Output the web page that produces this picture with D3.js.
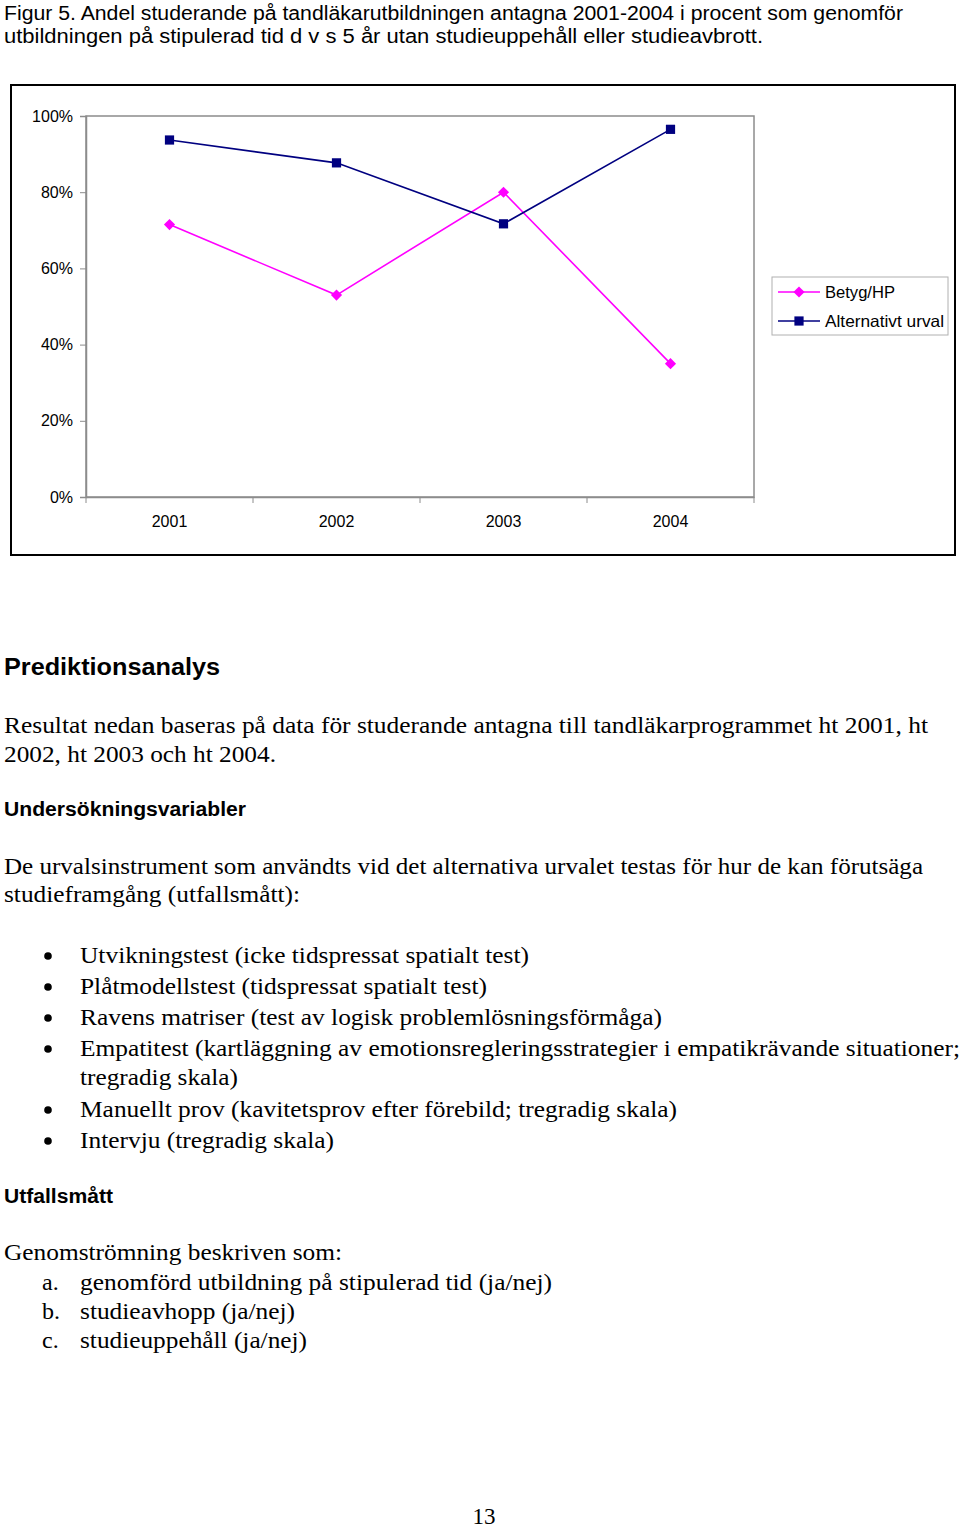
<!DOCTYPE html>
<html><head><meta charset="utf-8">
<script src="https://cdn.jsdelivr.net/npm/d3@7"></script>
<style>body{margin:0;background:#fff}svg{display:block}</style>
</head><body>
<svg id="c" width="960" height="1529"></svg>
<script>
const years = ["2001","2002","2003","2004"];
const betygHP = [71.5, 53, 80, 35];
const altUrval = [93.7, 87.7, 71.7, 96.5];
const yTicks = [0,20,40,60,80,100];
const seriesNames = ["Betyg/HP","Alternativt urval"];

const svg = d3.select("#c");
const sans = "'Liberation Sans', Arial, sans-serif";
const serif = "'Liberation Serif', 'Times New Roman', serif";

// Title
svg.append("text").attr("x",4).attr("y",20).attr("font-family",sans).attr("font-size",20)
  .attr("textLength",899).attr("lengthAdjust","spacingAndGlyphs")
  .text("Figur 5. Andel studerande på tandläkarutbildningen antagna 2001-2004 i procent som genomför");
svg.append("text").attr("x",4).attr("y",43).attr("font-family",sans).attr("font-size",20)
  .attr("textLength",759).attr("lengthAdjust","spacingAndGlyphs")
  .text("utbildningen på stipulerad tid d v s 5 år utan studieuppehåll eller studieavbrott.");

// chart frame
svg.append("rect").attr("x",11).attr("y",85).attr("width",944).attr("height",470)
  .attr("fill","#fff").attr("stroke","#000").attr("stroke-width",2);

const x = d3.scaleBand().domain(years).range([86,754]).padding(0);
const y = d3.scaleLinear().domain([0,100]).range([497,116]);

// plot area border
svg.append("rect").attr("x",86).attr("y",116).attr("width",668).attr("height",381)
  .attr("fill","none").attr("stroke","#8c8c8c").attr("stroke-width",1.5);

const yAxis = svg.append("g").attr("transform","translate(86,0)")
  .call(d3.axisLeft(y).tickValues(yTicks).tickFormat(d=>d+"%").tickSize(6).tickPadding(7));
yAxis.select(".domain").attr("stroke","#8c8c8c").attr("stroke-width",1.5);
yAxis.selectAll(".tick line").attr("stroke","#8c8c8c");
yAxis.selectAll("text").attr("font-family",sans).attr("font-size",16).attr("fill","#000");

const xAxis = svg.append("g").attr("transform","translate(0,497)")
  .call(d3.axisBottom(x).tickSize(0).tickPadding(19));
xAxis.select(".domain").attr("stroke","#8c8c8c").attr("stroke-width",1.5);
xAxis.selectAll("text").attr("font-family",sans).attr("font-size",16).attr("fill","#000");
// boundary ticks
const bounds = years.map(d=>x(d)).concat([x.range()[1]]);
svg.append("g").selectAll("line").data(bounds).join("line")
  .attr("x1",d=>d).attr("x2",d=>d).attr("y1",497).attr("y2",503)
  .attr("stroke","#8c8c8c").attr("stroke-width",1);

const cx = d => x(d)+x.bandwidth()/2;
const line = d3.line().x((v,i)=>cx(years[i])).y(v=>y(v));

const cfg = [
  {vals:betygHP, color:"#ff00ff", size:62, rot:45},
  {vals:altUrval, color:"#000080", size:85, rot:0}
];
cfg.forEach(s=>{
  svg.append("path").attr("d",line(s.vals)).attr("fill","none").attr("stroke",s.color).attr("stroke-width",1.6);
  svg.append("g").selectAll("path").data(s.vals).join("path")
    .attr("d",d3.symbol().type(d3.symbolSquare).size(s.size))
    .attr("transform",(v,i)=>`translate(${cx(years[i])},${y(v)}) rotate(${s.rot})`)
    .attr("fill",s.color);
});

// legend
svg.append("rect").attr("x",772).attr("y",277).attr("width",176).attr("height",58)
  .attr("fill","#fff").attr("stroke","#b0b0b0").attr("stroke-width",1);
const legW = [70,119];
seriesNames.forEach((n,i)=>{
  const ly = 292 + i*29;
  svg.append("line").attr("x1",778).attr("x2",820).attr("y1",ly).attr("y2",ly)
    .attr("stroke",cfg[i].color).attr("stroke-width",1.6);
  svg.append("path").attr("d",d3.symbol().type(d3.symbolSquare).size(cfg[i].size))
    .attr("transform",`translate(799,${ly}) rotate(${cfg[i].rot})`).attr("fill",cfg[i].color);
  svg.append("text").attr("x",825).attr("y",ly+6).attr("font-family",sans).attr("font-size",16.5)
    .attr("fill","#000").attr("textLength",legW[i]).attr("lengthAdjust","spacingAndGlyphs").text(n);
});

// body text
function t(xp, yp, str, font, size, weight, len){
  const e = svg.append("text").attr("x",xp).attr("y",yp).attr("font-family",font)
    .attr("font-size",size).attr("font-weight",weight||"normal").attr("fill","#000").text(str);
  if(len) e.attr("textLength",len).attr("lengthAdjust","spacingAndGlyphs");
  return e;
}
t(4,675,"Prediktionsanalys",sans,23,"bold",216);
t(4,733,"Resultat nedan baseras på data för studerande antagna till tandläkarprogrammet ht 2001, ht",serif,24,null,924);
t(4,762,"2002, ht 2003 och ht 2004.",serif,24,null,272);
t(4,816,"Undersökningsvariabler",sans,20,"bold",242);
t(4,874,"De urvalsinstrument som användts vid det alternativa urvalet testas för hur de kan förutsäga",serif,24,null,919);
t(4,902,"studieframgång (utfallsmått):",serif,24,null,296);

const bullets = [
  ["Utvikningstest (icke tidspressat spatialt test)",963,449],
  ["Plåtmodellstest (tidspressat spatialt test)",994,407],
  ["Ravens matriser (test av logisk problemlösningsförmåga)",1025,582],
  ["Empatitest (kartläggning av emotionsregleringsstrategier i empatikrävande situationer;",1056,880],
  ["tregradig skala)",1085,158],
  ["Manuellt prov (kavitetsprov efter förebild; tregradig skala)",1117,597],
  ["Intervju (tregradig skala)",1148,254]
];
bullets.forEach((b,i)=>{
  if(i!==4) svg.append("circle").attr("cx",48).attr("cy",b[1]-7).attr("r",3.8).attr("fill","#000");
  t(80,b[1],b[0],serif,24,null,b[2]);
});
t(4,1203,"Utfallsmått",sans,20,"bold",109);
t(4,1260,"Genomströmning beskriven som:",serif,24,null,338);
[["a.","genomförd utbildning på stipulerad tid (ja/nej)",1290,472],
 ["b.","studieavhopp (ja/nej)",1319,215],
 ["c.","studieuppehåll (ja/nej)",1348,227]].forEach(r=>{
  t(42,r[2],r[0],serif,24);
  t(80,r[2],r[1],serif,24,null,r[3]);
});
t(484,1524,"13",serif,23).attr("text-anchor","middle");
</script>
</body></html>
